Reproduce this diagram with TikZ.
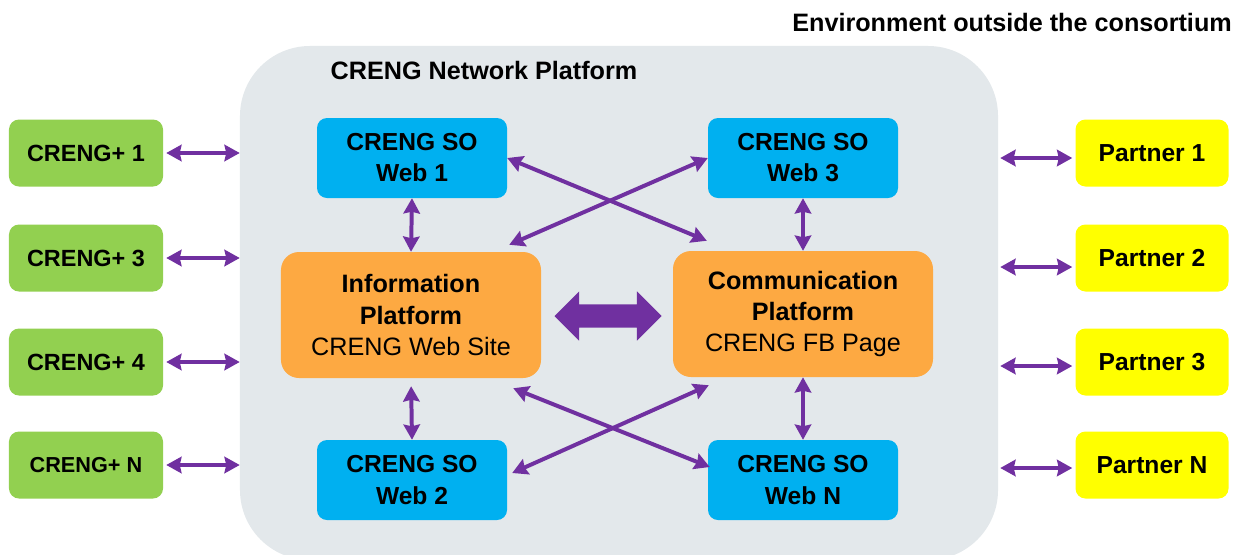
\documentclass[tikz,border=0pt]{standalone}
\usepackage{fontspec}
\setmainfont{Liberation Sans}
\usetikzlibrary{shapes.arrows,arrows.meta}

\definecolor{cgreen}{HTML}{92D050}
\definecolor{cblue}{HTML}{00B0F0}
\definecolor{corange}{HTML}{FDA942}
\definecolor{cyellow}{HTML}{FFFF00}
\definecolor{cpurple}{HTML}{7030A0}
\definecolor{cgrey}{HTML}{E3E8EB}

\tikzset{
  platform/.style={fill=cgrey, rounded corners=2.1cm, minimum width=22.74cm, minimum height=15.42cm},
  heading/.style={font=\bfseries\fontsize{21.5}{25}\selectfont, inner sep=0pt},
  greenbox/.style={fill=cgreen, rounded corners=0.3cm, minimum width=4.62cm, minimum height=2.01cm, font=\bfseries\fontsize{20}{24}\selectfont},
  yellowbox/.style={fill=cyellow, rounded corners=0.3cm, minimum width=4.59cm, minimum height=2.01cm, font=\bfseries\fontsize{21}{25}\selectfont},
  bluebox/.style={fill=cblue, rounded corners=0.3cm, minimum width=5.7cm, minimum height=2.4cm, align=center, font=\bfseries\fontsize{21}{26.5}\selectfont},
  orangebox/.style={fill=corange, rounded corners=0.54cm, minimum width=7.8cm, minimum height=3.78cm, align=center, font=\fontsize{21.5}{26.5}\selectfont},
  link/.style={draw=cpurple, line width=3.4pt, {Stealth[length=13pt,width=14pt,inset=1.5pt]}-{Stealth[length=13pt,width=14pt,inset=1.5pt]}},
  bigarrow/.style={double arrow, fill=cpurple, inner xsep=0pt, inner ysep=0.345cm, minimum height=3.21cm, double arrow head extend=0.39cm, double arrow tip angle=90}
}

\begin{document}
\begin{tikzpicture}[x=0.03cm,y=-0.03cm]
\useasboundingbox (0,0) rectangle (1238,554);
\node[platform] (NP) at (619,303){};
\node[heading, anchor=base] (T) at (484,79){CRENG Network Platform};
\node[heading, anchor=base east] (E) at (1232,31){Environment outside the consortium};

\node[greenbox] (G1) at (86,153){CRENG+ 1};
\node[greenbox] (G3) at (86,258){CRENG+ 3};
\node[greenbox] (G4) at (86,362){CRENG+ 4};
\node[greenbox, font=\bfseries\fontsize{18.5}{22}\selectfont] (GN) at (86,465){CRENG+ N};

\node[yellowbox] (P1) at (1152,153){Partner 1};
\node[yellowbox] (P2) at (1152,258){Partner 2};
\node[yellowbox] (P3) at (1152,362){Partner 3};
\node[yellowbox] (PN) at (1152,465){Partner N};

\node[bluebox] (W1) at (412,158){CRENG SO\\Web 1};
\node[bluebox] (W3) at (803,158){CRENG SO\\Web 3};
\node[bluebox] (W2) at (412,480){CRENG SO\\Web 2};
\node[bluebox] (WN) at (803,480){CRENG SO\\Web N};

\node[orangebox] (I) at (411,315){\textbf{Information}\\\textbf{Platform}\\CRENG Web Site};
\node[orangebox] (C) at (803,314){\textbf{Communication}\\\textbf{Platform}\\CRENG FB Page};
\node[bigarrow] (IC) at (608,316){};

% consortium members on the left
\draw (G1.east) edge[link, shorten <=0.09cm] (G1.east -| NP.west);
\draw (G3.east) edge[link, shorten <=0.09cm] (G3.east -| NP.west);
\draw (G4.east) edge[link, shorten <=0.09cm] (G4.east -| NP.west);
\draw (GN.east) edge[link, shorten <=0.09cm] (GN.east -| NP.west);

% partners on the right
\draw ([yshift=-0.15cm]P1.west -| NP.east) edge[link, shorten <=0.06cm, shorten >=0.09cm] ([yshift=-0.15cm]P1.west);
\draw ([yshift=-0.27cm]P2.west -| NP.east) edge[link, shorten <=0.06cm, shorten >=0.09cm] ([yshift=-0.27cm]P2.west);
\draw ([yshift=-0.12cm]P3.west -| NP.east) edge[link, shorten <=0.06cm, shorten >=0.09cm] ([yshift=-0.12cm]P3.west);
\draw ([yshift=-0.09cm]PN.west -| NP.east) edge[link, shorten <=0.06cm, shorten >=0.09cm] ([yshift=-0.09cm]PN.west);

% inside the platform
\draw (W1.south) edge[link] (I.north);
\draw (W3.south) edge[link] (C.north);
\draw (I.south) edge[link, shorten <=0.24cm] (W2.north);
\draw (C.south) edge[link] (WN.north);
\draw (W1.east) edge[link] ([shift={(34,-10)}]C.north west);
\draw (W3.west) edge[link] ([shift={(-32,-7)}]I.north east);
\draw ([shift={(-28,10)}]I.south east) edge[link] ([shift={(2,-13)}]WN.west);
\draw ([shift={(36,8)}]C.south west) edge[link] ([shift={(5,-7)}]W2.east);
\end{tikzpicture}
\end{document}
